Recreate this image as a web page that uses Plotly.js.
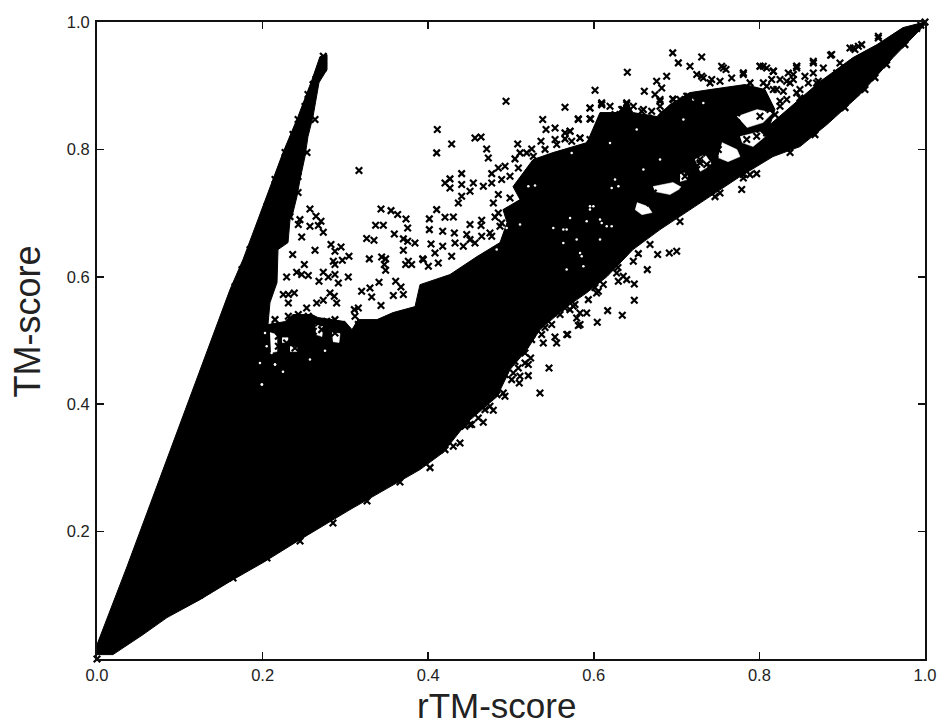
<!DOCTYPE html>
<html><head><meta charset="utf-8">
<script src="https://cdn.plot.ly/plotly-3.0.1.min.js"></script>
<style>html,body{margin:0;padding:0;background:#fff}</style></head>
<body><div id="chart" style="width:943px;height:726px"></div>
<script>
// dense cloud outline (rTM-score, TM-score)
const denseX=[0,.0193,.0556,.0845,.1244,.1643,.2005,.2452,.3056,.3478,.3901,.4179,.4469,.4831,.4988,.5193,.5350,.5676,.5918,.6159,.6473,.6800,.7041,.7403,.7766,.8164,.8490,.8816,.9215,.9614,1,1,.9734,.9420,.9130,.8732,.8406,.8128,.8188,.8068,.7826,.7681,.7403,.7162,.6920,.6763,.6473,.6401,.6316,.6075,.5918,.5507,.5266,.5024,.5109,.4903,.4952,.4867,.4589,.4263,.3901,.3841,.3575,.3382,.3152,.3080,.2995,.2669,.2597,.2367,.2271,.2065,.2089,.2174,.2186,.2307,.2331,.2355,.2415,.2452,.2512,.2548,.2609,.2681,.2778,.2778,.2693,.2597,.2428,.2246,.2089,.1944,.1763,.1606,.0362,0];
const denseY=[.0069,.0069,.0383,.0650,.0932,.1246,.1513,.1874,.2345,.2659,.2973,.3240,.3711,.4119,.4543,.4857,.5171,.5532,.5752,.6003,.6427,.6741,.6945,.7259,.7573,.7887,.8044,.8390,.8861,.9441,.9959,1,.9912,.9645,.9441,.9065,.8704,.8390,.8625,.8939,.9018,.8987,.8939,.8892,.8704,.8515,.8578,.8735,.8578,.8578,.8107,.7950,.7840,.7416,.7212,.7055,.6851,.6537,.6317,.6035,.5877,.5532,.5438,.5328,.5328,.5171,.5297,.5360,.5407,.5407,.5297,.5250,.5595,.5909,.6427,.6537,.6898,.6945,.7259,.7526,.7887,.8201,.8515,.9049,.9253,.9488,.9457,.9096,.8515,.7950,.7416,.6898,.6270,.5799,.1450,.0226];

// gaps inside the cloud
const gapX=[.6715,.6957,.7065,.6920,.6739,null,.6522,.6655,.6703,.6582,.6498,null,.7548,.7729,.7766,.7621,.7500,null,.7729,.7971,.8164,.8043,.7850,null,.7766,.8007,.8068,.7923,.7790,null,.7041,.7138,.7126,.7041,null,.7222,.7343,.7428,.7283,null,.2633,.2729,.2717,.2645,null,.2838,.2935,.2923,.2850,null,.2089,.2174,.2174,.2101,null,.2234,.2307,.2307,.2234,null,.2331,.2415,.2415,.2331];
const gapY=[.7417,.7480,.7401,.7291,.7338,null,.7165,.7102,.7008,.6976,.7055,null,.8107,.7997,.7887,.7808,.7871,null,.8515,.8625,.8578,.8421,.8342,null,.8201,.8280,.8201,.8044,.8107,null,.7605,.7652,.7526,.7495,null,.7840,.7919,.7762,.7652,null,.5250,.5218,.5061,.5093,null,.5124,.5108,.4967,.4982,null,.5124,.5093,.4826,.4810,null,.5045,.5045,.4967,.4967,null,.4904,.4904,.4826,.4826];

// small pale flecks in the cloud
const fleckX=[.5290,.5209,.5713,.5954,.6216,.6095,.6216,.5632,.5672,.5854,.5874,.5511,.5109,.4948,.6196,.5733,.6075,.5914,.5672,.6276,.4827,.5995,.5632,.6156,.6256,.6518,.7082,.6075,.6297,.5834,.5954,.5793,.6599,.6800,.7323,.7202,.1989,.1968,.2150,.2049,.2029,.2109,.2754,.2150,.2246,.1993,.2572];
const fleckY=[.7432,.7421,.6924,.7107,.7395,.6846,.6793,.6532,.6113,.6323,.6165,.6767,.6820,.6767,.8102,.7945,.6584,.6872,.6741,.6061,.6427,.7108,.6741,.6794,.7526,.8311,.8468,.6898,.7421,.6375,.7055,.6584,.7683,.7840,.8730,.8782,.4308,.4648,.4622,.4910,.5119,.4805,.4841,.4623,.4511,.4308,.4700];

// individually legible points
const pointX=[0,1,.995,.99,.2733,.2733,.2733,.2645,.2633,.3164,
.2572,.2645,.2451,.2705,.2431,.2572,.2673,.2733,.2472,.2363,.2633,.2826,.2947,.2874,.3043,.2963,.2854,.2874,.2504,.2411,.2552,.2472,.2290,.2733,.2794,.2874,.2681,.2915,.3035,.2250,.2311,.2383,.2311,.2814,.2866,.2894,.2653,.2733,.2532,.3430,.3551,.3631,.3732,.3752,.3365,.3458,.3257,.3345,.3591,.3700,.3752,.3840,.3700,.3289,.3438,.3486,.3470,.3486,.3760,.3728,.3800,.3933,.3406,.3607,.3671,.3196,.3297,.3317,.3579,.3700,.3430,.3156,.3108,.2431,.2150,.2311,.2552,.3116,.2874,.2774,.2673,.2955,.2613,.2774,.3156,.3116,.3196,.2150,.2190,.2311,.2371,.2190,.2290,.2391,.2512,.2713,.2874,
.4110,.4283,.4102,.4565,.4638,.4706,.4726,.4940,.5652,.5954,.6095,.5383,.5813,.5962,.5423,.5532,.5713,.5081,.5362,.5532,.5652,.5833,.5250,.5109,.5189,.5048,.4928,.4847,.4767,.4404,.4263,.4203,.4263,.4404,.4545,.4666,.4505,.4404,.4364,.4787,.4847,.4988,.4102,.4203,.4304,.4014,.4014,.4505,.4646,.4638,.4807,.4175,.4316,.4465,.4034,.4175,.4324,.4082,.3941,.4867,.4767,
.4887,.4988,.4767,.5089,.5270,.5411,.5552,.5733,.5954,.6095,.6176,.6256,.4847,.4887,.4746,.4646,.4565,.4424,.4283,.4122,.4002,.4505,
.6953,.7021,.7303,.7162,.7544,.7597,.6405,.6880,.6759,.6820,.6610,.6739,.6800,.6953,.7243,.7323,.7806,.8007,.8088,.8168,.8410,.8450,.8249,.8048,.6095,.6397,.6337,.6578,.6699,.6196,.6659,.7142,.7243,.7806,.7967,.7786,.7806,
.6478,.6820,.7041,.7404,.7524,.7665,.7887,.7967,.8209,.8088,.8128,.8249,.7726,.7726,.8007,.8088,.7967,.7847,.7685,.7605,.7464,.7363,.7243,.7283,.7122,.7001,.7363,.7504,.8370,.8450,.8330,.6196,.6800,.7806,.7605,.7404,.7283,.7202,.7082,.7102,.6679,.6599,.6719,
.9436,.9094,.9195,.9154,.8860,.8973,.8651,.8450,.8651,.8168,.8047,.8349,.8550,.8168,.8088,.8289,.8108,.8249,.8490,.8490,.8691,.9275,.8007,.8148,.8712,.8410,.8772,.8933,.8591,.8329,.8188,.9074,.9537,.7524,
.5350,.5459,.5237,.5169,.5209,.5100,.5008,.4927,.4786,.4665,.4525,.4384,.5390,.5551,.5531,.5684,.5813,.5914,.6042,.6167,.6344,.6489,.6489,.6296,.6397,.6115,.6646,.6771,.6912,.7001,.6538,.6034,.5712,.5673,.5834,
.2609,.2548,.2512,.2428,.2367,.2271,.2536,.2428,.2428,.2150,.2053,.1969,.1848,.2331,.1751,.1667,
.1244,.1643,.2053,.2452,.2850,.3261,.3659,.4022,.4203,.4505,.4686,.4831,.4928,.5048,.5169,.5411,.5592,.5773,.6014,.6292,.6679,.7041,.7464,.7886,.8370,.8671,.9034,.9396,.9758,
.5028,.5108,.5169,.5249,.5370,.5491,.5752,.5793,.5833,.5652,.5934,.6055,.6276,.6356,.6477,.4907,.4746,.4605,.4444,.4303,.5088,.5209,
.5652,.5834,.5713,.6015,.6095,.5954,.5813,.5954,.6156,.6397,.6357,.6599,.6800,.6961,.7122,.7243,.7303,.7424,.7565,.7806,.8008,.8169,.8450,.8652,.8873,.9135,.9235,.9437];
const pointY=[0,1,.995,.99,.9461,.9383,.9279,.9100,.8469,.7668,
.7065,.6950,.6898,.6872,.6820,.6793,.6804,.6699,.6626,.6349,.6417,.6506,.6469,.6401,.6322,.6260,.6244,.6192,.6192,.6071,.6019,.6035,.5998,.6071,.5998,.6035,.5930,.5904,.5998,.5721,.5721,.5747,.5590,.5747,.5694,.5590,.5590,.5632,.5511,.7065,.7039,.6977,.6908,.6767,.6809,.6809,.6600,.6574,.6673,.6595,.6558,.6532,.6417,.6281,.6312,.6281,.6192,.6103,.6244,.6192,.6192,.6281,.5914,.5930,.5841,.5773,.5825,.5684,.5705,.5721,.5548,.5511,.5485,.5407,.5328,.5380,.5380,.5380,.5328,.5302,.5276,.5250,.5145,.5197,.5250,.5093,.5171,.5223,.5066,.5119,.5223,.4910,.4962,.4883,.5197,.5171,.5119,
.8311,.8086,.7945,.8180,.8196,.8007,.7866,.8756,.8662,.8651,.8703,.8468,.8468,.8478,.8311,.8337,.8285,.8086,.8128,.8154,.8165,.8180,.8007,.7945,.7945,.7851,.7735,.7709,.7620,.7620,.7537,.7474,.7395,.7448,.7474,.7421,.7343,.7264,.7160,.7160,.7291,.7238,.7055,.6935,.6940,.6909,.6741,.6820,.6888,.6804,.6940,.6715,.6689,.6663,.6516,.6480,.6532,.6375,.6270,.6793,.6636,
.7526,.7578,.7474,.7709,.7892,.8000,.8076,.8128,.8154,.8285,.8468,.8547,.7003,.6846,.6689,.6636,.6532,.6480,.6322,.6218,.6166,.6584,
.9515,.9358,.9452,.9305,.9305,.9253,.9211,.9148,.9070,.8965,.8913,.8861,.8756,.8792,.9175,.9122,.9175,.9305,.9279,.9227,.9175,.9305,.9096,.9044,.8704,.8704,.8625,.8599,.8599,.8494,.8494,.8834,.8704,.7605,.7620,.7369,.7552,
.8677,.8573,.8782,.9044,.9070,.9122,.9044,.8887,.8939,.8730,.8625,.8677,.8573,.8416,.8520,.8259,.8206,.8154,.8128,.8206,.7840,.7762,.7683,.7840,.7631,.7605,.7945,.7997,.9044,.8887,.8782,.8677,.8677,.8913,.8677,.7735,.7788,.7578,.7422,.7578,.7160,.7265,.7317,
.9750,.9593,.9619,.9567,.9478,.9357,.9383,.9305,.9200,.9226,.9305,.9200,.9148,.8939,.8991,.8912,.8651,.8755,.8939,.8808,.9043,.8939,.8311,.9096,.9069,.9096,.9279,.9200,.9043,.9069,.8546,.8860,.9331,.7317,
.4177,.4569,.4726,.4648,.4449,.4334,.4386,.4125,.3905,.3716,.3680,.3392,.4962,.4962,.5056,.5093,.5234,.5433,.5286,.5469,.5396,.5631,.5888,.5930,.5956,.5878,.6113,.6349,.6375,.6401,.6364,.5747,.5485,.5093,.5250,
.9017,.8861,.8672,.8469,.8233,.7950,.7950,.7574,.7322,.7526,.7103,.6789,.6427,.6945,.6113,.5846,
.1004,.1271,.1585,.1852,.2134,.2479,.2778,.3004,.3287,.3680,.3915,.4150,.4465,.4669,.4936,.5203,.5407,.5564,.5831,.6145,.6506,.6867,.7259,.7604,.7950,.8232,.8656,.9127,.9645,
.4491,.4438,.4805,.5014,.5093,.5250,.5537,.5354,.5433,.5511,.5642,.5773,.6061,.6008,.6244,.4177,.3967,.3784,.3654,.3340,.4569,.4622,
.8259,.8180,.8285,.8929,.8730,.8651,.8479,.8479,.8520,.8730,.8625,.8625,.8782,.8782,.8834,.8834,.9148,.9096,.9279,.9201,.9305,.9227,.9279,.9358,.9489,.9593,.9645,.9776];

const xTicks=[0,0.2,0.4,0.6,0.8,1];
const yTicks=[0.2,0.4,0.6,0.8,1];
const tickLabels=['0.0','0.2','0.4','0.6','0.8','1.0'];
const xTitle='rTM-score';
const yTitle='TM-score';

const FONT='Liberation Sans, Arial, sans-serif';
const axis={range:[0,1],showgrid:false,zeroline:false,showline:true,linecolor:'#111',linewidth:2,mirror:'ticks',ticks:'inside',ticklen:7,tickwidth:1.6,tickcolor:'#111',tickfont:{family:FONT,size:16.5,color:'#222'}};
const traces=[
 {x:denseX,y:denseY,mode:'lines',fill:'toself',fillcolor:'#000',line:{color:'#000',width:1},hoverinfo:'skip'},
 {x:gapX,y:gapY,mode:'lines',fill:'toself',fillcolor:'#fff',line:{color:'#fff',width:0.5},hoverinfo:'skip'},
 {x:fleckX,y:fleckY,mode:'markers',marker:{symbol:'circle',size:2.5,color:'#fff'},hoverinfo:'skip'},
 {x:pointX,y:pointY,mode:'markers',cliponaxis:false,marker:{symbol:'x-thin',size:6.5,color:'#000',line:{color:'#000',width:2.2}}}
];
const layout={width:943,height:726,showlegend:false,paper_bgcolor:'#fff',plot_bgcolor:'#fff',
 margin:{l:97,r:18,t:22,b:67,pad:0},
 xaxis:Object.assign({},axis,{tickvals:xTicks,ticktext:tickLabels}),
 yaxis:Object.assign({},axis,{tickvals:yTicks,ticktext:tickLabels.slice(1),ticklabelstandoff:2}),
 annotations:[
  {text:xTitle,xref:'paper',yref:'paper',x:0.4825,y:-0.0725,xanchor:'center',yanchor:'middle',showarrow:false,font:{family:FONT,size:35,color:'#222'}},
  {text:yTitle,xref:'paper',yref:'paper',x:-0.0835,y:0.5295,xanchor:'center',yanchor:'middle',textangle:-90,showarrow:false,font:{family:FONT,size:36,color:'#222'}}
 ]
};
Plotly.newPlot('chart',traces,layout,{displayModeBar:false,staticPlot:true});
</script></body></html>
